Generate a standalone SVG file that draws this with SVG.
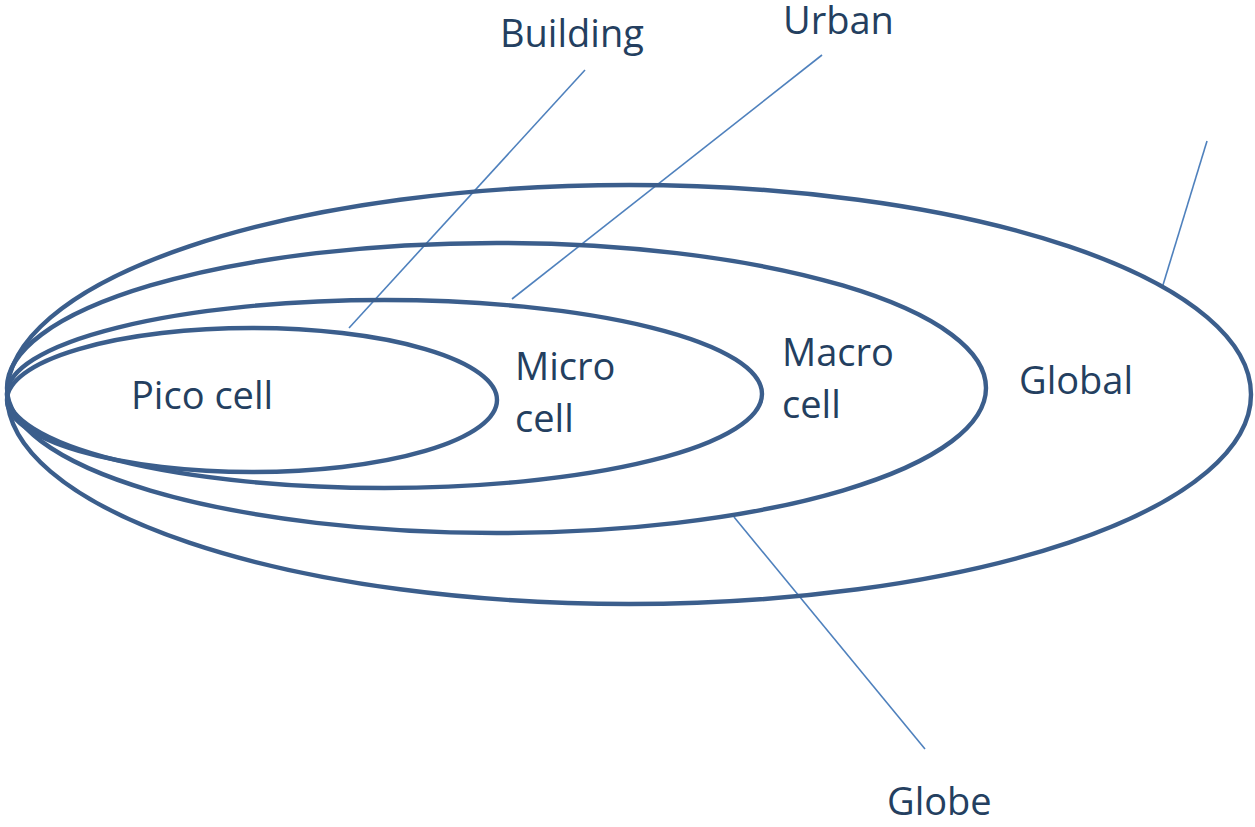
<svg xmlns="http://www.w3.org/2000/svg" width="1255" height="827" viewBox="0 0 1255 827">
<style>
.ring{fill:none;stroke:#3B5E8C;stroke-width:4.4}
.lead{stroke:#4F81BD;stroke-width:1.6;fill:none}
.lbl{font-family:"Open Sans","Noto Sans",sans-serif;font-size:38px;fill:#243F60}
</style>
<rect width="1255" height="827" fill="#ffffff"/>
<g id="connectors">
<line class="lead" x1="585" y1="70" x2="349" y2="328"/>
<line class="lead" x1="822" y1="55" x2="512" y2="299"/>
<line class="lead" x1="1207" y1="141" x2="1163" y2="285"/>
<line class="lead" x1="734" y1="517" x2="925" y2="749"/>
</g>
<g id="global">
<ellipse class="ring" cx="629" cy="394.5" rx="622" ry="209.5"/>
<text class="lbl" x="1019" y="394">Global</text>
</g>
<g id="macro">
<ellipse class="ring" cx="496.5" cy="388" rx="489.5" ry="145"/>
<text class="lbl" x="782" y="366">Macro</text>
<text class="lbl" x="782" y="418">cell</text>
</g>
<g id="micro">
<ellipse class="ring" cx="384.5" cy="394" rx="377.5" ry="94"/>
<text class="lbl" x="515" y="380">Micro</text>
<text class="lbl" x="515" y="432">cell</text>
</g>
<g id="pico">
<ellipse class="ring" cx="252" cy="400" rx="245" ry="72"/>
<text class="lbl" x="131" y="409">Pico cell</text>
</g>
<g id="building-label"><text class="lbl" x="500" y="47">Building</text></g>
<g id="urban-label"><text class="lbl" x="783" y="34">Urban</text></g>
<g id="globe-label"><text class="lbl" x="887" y="815">Globe</text></g>
</svg>
